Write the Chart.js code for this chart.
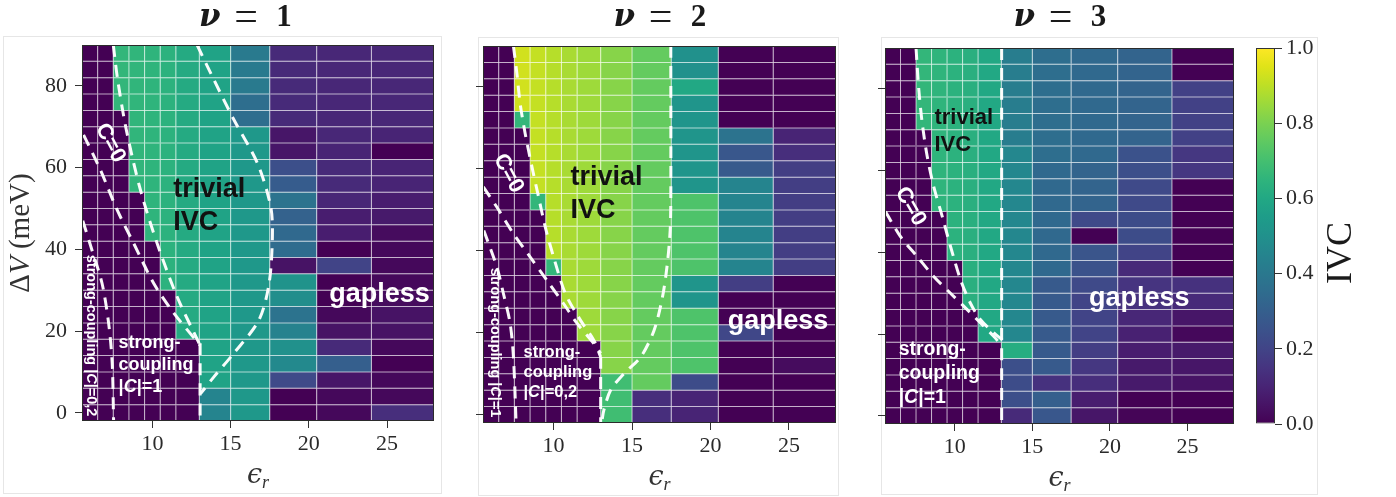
<!DOCTYPE html>
<html>
<head>
<meta charset="utf-8">
<script src="https://cdn.jsdelivr.net/npm/chart.js@4.4.1/dist/chart.umd.min.js"></script>
<style>
  body { margin: 0; background: #fff; width: 1396px; height: 497px; position: relative; overflow: hidden; }
  .frame { position: absolute; border: 1px solid #e6e6e6; }
  canvas { position: absolute; top: 0; }
</style>
</head>
<body>
<div class="frame" style="left:3px;top:36px;width:437px;height:456px"></div>
<div class="frame" style="left:478px;top:37px;width:359px;height:457px"></div>
<div class="frame" style="left:881px;top:37px;width:435px;height:456px"></div>
<canvas id="nu1" width="445" height="497" style="left:0px"></canvas>
<canvas id="nu2" width="400" height="497" style="left:445px"></canvas>
<canvas id="nu3" width="395" height="497" style="left:845px"></canvas>
<canvas id="cbar" width="156" height="497" style="left:1240px"></canvas>
<script>
// grid of the three maps: eps_r columns, Delta V rows (top row first)
const epsR = [6, 7, 8, 9, 10, 11, 12, 14, 16, 19, 22, 26];
const deltaV = [88, 84, 80, 76, 72, 68, 64, 60, 56, 52, 48, 44, 40, 36, 32, 28, 24, 20, 16, 12, 8, 4, 0];
const xTicks = [10, 15, 20, 25];
const yTicks = [0, 20, 40, 60, 80];
const cbarTicks = [0, 0.2, 0.4, 0.6, 0.8, 1.0];

// IVC order parameter, one row per deltaV value
const ivcNu1 = [
  [0, 0, .66, .655, .65, .64, .61, .58, .41, .12, .11, .11],
  [0, 0, .66, .655, .65, .64, .61, .58, .41, .12, .11, .11],
  [0, 0, .66, .655, .65, .64, .61, .58, .41, .12, .11, .11],
  [0, 0, .66, .655, .65, .64, .61, .58, .36, .12, .11, .11],
  [0, 0, 0, .655, .65, .64, .61, .58, .36, .12, .11, .11],
  [0, 0, 0, .655, .65, .64, .61, .58, .53, .06, .11, .10],
  [0, 0, 0, .655, .65, .64, .61, .58, .53, .06, .10, 0],
  [0, 0, 0, .655, .65, .64, .61, .58, .53, .24, .12, .10],
  [0, 0, 0, .655, .65, .64, .61, .58, .53, .29, .12, .10],
  [0, 0, 0, 0, .65, .64, .61, .58, .53, .38, .11, .08],
  [0, 0, 0, 0, .65, .64, .61, .58, .53, .31, .08, .07],
  [0, 0, 0, 0, .65, .64, .61, .58, .53, .34, .08, .03],
  [0, 0, 0, 0, 0, .64, .61, .58, .53, .35, 0, .02],
  [0, 0, 0, 0, 0, .64, .61, .58, .53, .05, .20, .02],
  [0, 0, 0, 0, 0, .64, .61, .58, .53, .51, 0, .02],
  [0, 0, 0, 0, 0, 0, .61, .58, .53, .49, 0, .03],
  [0, 0, 0, 0, 0, 0, .61, .58, .53, .38, .02, .05],
  [0, 0, 0, 0, 0, 0, .61, .58, .53, .44, .05, .05],
  [0, 0, 0, 0, 0, 0, 0, .58, .53, .50, .12, .02],
  [0, 0, 0, 0, 0, 0, 0, .58, .53, .47, .30, 0],
  [0, 0, 0, 0, 0, 0, 0, .58, .53, .22, .06, .02],
  [0, 0, 0, 0, 0, 0, 0, .45, .53, 0, .02, .02],
  [0, 0, 0, 0, 0, 0, 0, .45, .53, 0, .02, .13]
];
const ivcNu2 = [
  [0, 0, .93, .91, .89, .87, .855, .82, .76, .50, 0, 0],
  [0, 0, .93, .91, .89, .87, .855, .82, .76, .50, 0, 0],
  [0, 0, .93, .91, .89, .87, .855, .82, .76, .60, 0, 0],
  [0, 0, .93, .91, .89, .87, .855, .82, .76, .52, 0, 0],
  [0, 0, .66, .91, .89, .87, .855, .82, .76, .52, 0, 0],
  [0, 0, 0, .91, .89, .87, .855, .82, .76, .52, .38, .10],
  [0, 0, 0, .91, .89, .87, .855, .82, .76, .52, .27, .13],
  [0, 0, 0, .91, .89, .87, .855, .82, .76, .52, .28, .18],
  [0, 0, 0, .91, .89, .87, .855, .82, .76, .52, .45, .18],
  [0, 0, 0, .66, .89, .87, .855, .82, .76, .72, .45, .18],
  [0, 0, 0, 0, .89, .87, .855, .82, .76, .72, .45, .18],
  [0, 0, 0, 0, .89, .87, .855, .82, .76, .72, .45, .18],
  [0, 0, 0, 0, .89, .87, .855, .82, .76, .72, .45, .18],
  [0, 0, 0, 0, .66, .87, .855, .82, .76, .72, .45, .18],
  [0, 0, 0, 0, 0, .87, .855, .82, .76, .52, .18, 0],
  [0, 0, 0, 0, 0, .87, .855, .82, .76, .52, 0, 0],
  [0, 0, 0, 0, 0, 0, .855, .82, .76, .72, 0, 0],
  [0, 0, 0, 0, 0, 0, .855, .82, .76, .72, .21, 0],
  [0, 0, 0, 0, 0, 0, 0, .82, .76, .72, 0, 0],
  [0, 0, 0, 0, 0, 0, 0, .82, .76, .72, 0, .03],
  [0, 0, 0, 0, 0, 0, 0, .69, .76, .23, 0, 0],
  [0, 0, 0, 0, 0, 0, 0, .69, .13, .10, 0, 0],
  [0, 0, 0, 0, 0, 0, 0, .69, .13, .10, 0, 0]
];
const ivcNu3 = [
  [0, 0, .66, .65, .64, .63, .60, .42, .36, .34, .32, 0],
  [0, 0, .66, .65, .64, .63, .60, .42, .36, .34, .32, 0],
  [0, 0, .66, .65, .64, .63, .60, .42, .36, .34, .32, .19],
  [0, 0, .66, .65, .64, .63, .60, .42, .36, .34, .32, .19],
  [0, 0, .66, .65, .64, .63, .60, .42, .36, .34, .32, .19],
  [0, 0, 0, .65, .64, .63, .60, .42, .36, .34, .32, .19],
  [0, 0, 0, .65, .64, .63, .60, .46, .36, .34, .25, .16],
  [0, 0, 0, .65, .64, .63, .60, .46, .34, .32, .24, .16],
  [0, 0, 0, .65, .64, .63, .60, .46, .34, .32, .22, 0],
  [0, 0, 0, .65, .64, .63, .60, .46, .34, .32, .22, 0],
  [0, 0, 0, 0, .64, .63, .60, .46, .34, .22, .23, 0],
  [0, 0, 0, 0, .64, .63, .60, .46, .34, 0, .23, 0],
  [0, 0, 0, 0, .64, .63, .60, .46, .34, .26, .20, 0],
  [0, 0, 0, 0, 0, .63, .60, .46, .34, .25, .12, 0],
  [0, 0, 0, 0, 0, .63, .60, .46, .28, .22, .15, .14],
  [0, 0, 0, 0, 0, .63, .60, .46, .28, .20, .14, .12],
  [0, 0, 0, 0, 0, 0, .60, .46, .28, .20, .11, .06],
  [0, 0, 0, 0, 0, 0, .60, .46, .28, .20, .09, .02],
  [0, 0, 0, 0, 0, 0, 0, .62, .28, .18, .08, .07],
  [0, 0, 0, 0, 0, 0, 0, .24, .28, .16, .07, .06],
  [0, 0, 0, 0, 0, 0, 0, .23, .14, .13, .07, .05],
  [0, 0, 0, 0, 0, 0, 0, .24, .30, .08, 0, 0],
  [0, 0, 0, 0, 0, 0, 0, .12, .27, .06, .01, 0]
];

// phase boundaries [eps_r, deltaV]
const nu1Bounds = [
  [[7.5, 90], [7.78, 81.5], [8.33, 69.3], [9.23, 54.6], [10.3, 41.5], [11.58, 28.4], [13.05, 16.5]],
  [[5.6, 68], [6.67, 59.5], [7.74, 49.7], [8.8, 41.5], [10.08, 31.7], [11.37, 24.4], [13.05, 16.5]],
  [[5.55, 47], [6.13, 39.9], [6.78, 31.7], [7.2, 22], [7.43, 12.2], [7.52, -2]],
  [[12.86, 90], [13.93, 81.5], [15.21, 71.7], [16.71, 61.1], [17.56, 50.5], [17.67, 43.1], [17.46, 31.7], [16.81, 22.7], [15.21, 14.6], [13.93, 8.8], [13.08, 4.7]],
  [[13.05, 17], [13.05, -2]]
];
const nu2Bounds = [
  [[7.44, 90], [7.66, 83.3], [7.87, 75.9], [8.19, 68.6], [8.62, 60.5], [9.04, 53.2], [9.47, 45.8], [10.0, 38.5], [10.75, 29.6], [11.71, 23.1], [12.56, 18.2], [13.0, 14.1]],
  [[13.0, 14.1], [13.0, -2]],
  [[5.52, 55.6], [6.38, 50.7], [7.44, 44.2], [8.51, 38.5], [9.58, 32.8], [10.64, 27.1], [11.5, 22.3], [12.56, 17.4], [13.0, 15]],
  [[5.55, 45], [6.38, 36.1], [6.8, 29.6], [7.23, 22.3], [7.44, 14.1], [7.61, -2]],
  [[17.47, 90], [17.47, 53.2], [17.43, 45.0], [17.25, 36.9], [16.94, 28.75], [16.4, 20.6], [15.55, 14.1], [14.48, 10.06], [13.63, 6.0], [13.2, 1.1], [13.1, -1]]
];
const nu3Bounds = [
  [[7.5, 90], [7.68, 79.8], [7.9, 71.6], [8.22, 63.5], [8.64, 56.1], [9.19, 48.8], [9.72, 41.5], [10.37, 33.3], [11.0, 27.6], [11.66, 23.5], [12.52, 20.3], [13.06, 18.6]],
  [[5.53, 50], [6.49, 43.9], [7.57, 39.0], [8.64, 34.1], [9.72, 30.0], [10.8, 26.0], [11.66, 22.7], [12.52, 19.4], [13.06, 17.0]],
  [[13.02, 90], [13.02, -2]]
];

// text labels inside the maps (data coordinates)
const nu1Notes = [
  { lines: ['trivial', 'IVC'], x: 11.33, y: 52.9, size: 27, lh: 33, color: '#111' },
  { lines: ['gapless'], x: 21.3, y: 27.2, size: 27, color: '#fff' },
  { lines: ['strong-', 'coupling', '|*C*|=1'], x: 7.84, y: 15.8, size: 18, lh: 22, color: '#fff' },
  { text: 'strong-coupling |*C*|=0,2', x: 6.09, y: 18.9, size: 14.5, rot: 90, color: '#fff' },
  { text: 'C=0', x: 7.31, y: 66, size: 22, rot: 62, color: '#fff' }
];
const nu2Notes = [
  { lines: ['trivial', 'IVC'], x: 11.07, y: 56.0, size: 27, lh: 33, color: '#111' },
  { lines: ['gapless'], x: 21.1, y: 21.0, size: 27, color: '#fff' },
  { lines: ['strong-', 'coupling', '|*C*|=0,2'], x: 8.08, y: 14.1, size: 16.5, lh: 20, color: '#fff' },
  { text: 'strong-coupling |*C*|=1', x: 6.27, y: 17.6, size: 14.5, rot: 90, color: '#fff' },
  { text: 'C=0', x: 7.12, y: 58.9, size: 22, rot: 62, color: '#fff' }
];
const nu3Notes = [
  { lines: ['trivial', 'IVC'], x: 8.69, y: 71.4, size: 22, lh: 27, color: '#111' },
  { lines: ['gapless'], x: 18.65, y: 26.8, size: 27, color: '#fff' },
  { lines: ['strong-', 'coupling', '|*C*|=1'], x: 6.38, y: 15.0, size: 19.5, lh: 24, color: '#fff' },
  { text: 'C=0', x: 7.14, y: 51.2, size: 22, rot: 60, color: '#fff' }
];

const VIRIDIS = ['#440154', '#471365', '#482475', '#463480', '#414487', '#3b528b', '#355f8d',
  '#2f6c8e', '#2a788e', '#25848e', '#21918c', '#1e9c89', '#22a884', '#2fb47c', '#44bf70',
  '#5ec962', '#7ad151', '#9bd93c', '#bddf26', '#dfe318', '#fde725'];

function hexRgb(h) {
  return [1, 3, 5].map(i => parseInt(h.slice(i, i + 2), 16));
}
function viridisRgb(v) {
  const t = Math.max(0, Math.min(1, v)) * (VIRIDIS.length - 1);
  const i = Math.min(Math.floor(t), VIRIDIS.length - 2);
  const a = hexRgb(VIRIDIS[i]), b = hexRgb(VIRIDIS[i + 1]);
  const f = t - i;
  return a.map((c, k) => Math.round(c + (b[k] - c) * f));
}
function viridis(v) {
  const c = viridisRgb(v);
  return `rgb(${c[0]},${c[1]},${c[2]})`;
}
function tinted(v, amt) {
  const c = viridisRgb(v).map(x => Math.round(x + (255 - x) * amt));
  return `rgb(${c[0]},${c[1]},${c[2]})`;
}

function cellEdges(c) {
  const e = [c[0] - (c[1] - c[0]) / 2];
  for (let i = 1; i < c.length; i++) e.push((c[i - 1] + c[i]) / 2);
  e.push(c[c.length - 1] + (c[c.length - 1] - c[c.length - 2]) / 2);
  return e;
}

const SANS = '"Liberation Sans", Arial, sans-serif';
const SERIF = '"Liberation Serif", "DejaVu Serif", serif';

// draws text with *italic* segments starting at x
function richWidth(ctx, text, size) {
  let w = 0;
  text.split('*').forEach((seg, i) => {
    ctx.font = `${i % 2 ? 'italic ' : ''}bold ${size}px ${SANS}`;
    w += ctx.measureText(seg).width;
  });
  return w;
}
function richDraw(ctx, text, x, y, size) {
  text.split('*').forEach((seg, i) => {
    ctx.font = `${i % 2 ? 'italic ' : ''}bold ${size}px ${SANS}`;
    ctx.fillText(seg, x, y);
    x += ctx.measureText(seg).width;
  });
}

function decor(notes, titleNum, titleDx, showYLabel) {
  return {
    id: 'decor',
    afterDatasetsDraw(chart) {
      const ctx = chart.ctx;
      const xs = chart.scales.x, ys = chart.scales.y;
      ctx.save();
      notes.forEach(n => {
        const px = xs.getPixelForValue(n.x), py = ys.getPixelForValue(n.y);
        ctx.fillStyle = n.color;
        if (n.rot !== undefined) {
          ctx.save();
          ctx.translate(px, py);
          ctx.rotate(n.rot * Math.PI / 180);
          ctx.textBaseline = 'middle';
          richDraw(ctx, n.text, -richWidth(ctx, n.text, n.size) / 2, 0, n.size);
          ctx.restore();
        } else {
          ctx.textBaseline = 'alphabetic';
          n.lines.forEach((l, i) => richDraw(ctx, l, px, py + i * (n.lh || 0), n.size));
        }
      });
      ctx.restore();
    },
    afterDraw(chart) {
      const ctx = chart.ctx;
      const a = chart.chartArea;
      ctx.save();
      // axes frame
      ctx.strokeStyle = '#2b2b2b';
      ctx.lineWidth = 1;
      ctx.strokeRect(Math.round(a.left) + 0.5, Math.round(a.top) + 0.5,
        Math.round(a.right - a.left) - 1, Math.round(a.bottom - a.top) - 1);
      ctx.fillStyle = '#1a1a1a';
      ctx.textBaseline = 'alphabetic';
      // title: nu = n, spaced like the math-mode original
      const cx = (a.left + a.right) / 2 + titleDx;
      ctx.textAlign = 'left';
      ctx.font = 'italic bold 31px "DejaVu Serif", serif';
      ctx.fillText('ν', cx - 46, 26);
      ctx.textAlign = 'center';
      ctx.font = '42px ' + SERIF;
      ctx.fillText('=', cx + 1, 30);
      ctx.font = 'bold 31px ' + SERIF;
      ctx.fillText(String(titleNum), cx + 39, 26);
      ctx.textAlign = 'left';
      // x label epsilon_r
      ctx.fillStyle = '#333';
      ctx.font = 'italic 27px "DejaVu Serif", ' + SERIF;
      const ew = ctx.measureText('ϵ').width;
      ctx.font = 'italic 18px ' + SERIF;
      const rw = ctx.measureText('r').width;
      const ex = (a.left + a.right) / 2 - (ew + rw) / 2;
      ctx.font = 'italic 27px "DejaVu Serif", ' + SERIF;
      ctx.fillText('ϵ', ex, a.bottom + 62);
      ctx.font = 'italic 18px ' + SERIF;
      ctx.fillText('r', ex + ew, a.bottom + 67);
      // y label
      if (showYLabel) {
        ctx.save();
        ctx.translate(21.5, (a.top + a.bottom) / 2);
        ctx.rotate(-Math.PI / 2);
        const yp = [['Δ', '29px ' + SERIF], ['V', 'italic 29px ' + SERIF], [' (meV)', '29px ' + SERIF]];
        let yw = 0;
        yp.forEach(p => { ctx.font = p[1]; yw += ctx.measureText(p[0]).width; });
        let yx = -yw / 2;
        ctx.textBaseline = 'middle';
        yp.forEach(p => { ctx.font = p[1]; ctx.fillText(p[0], yx, 0); yx += ctx.measureText(p[0]).width; });
        ctx.restore();
      }
      ctx.restore();
    }
  };
}

function heatmap(id, values, bounds, notes, cfg) {
  const edges = cellEdges(epsR);
  const half = (deltaV[0] - deltaV[1]) / 2;
  const datasets = [];
  bounds.forEach(line => datasets.push({
    type: 'line',
    data: line.map(([x, y]) => ({ x, y })),
    borderColor: 'rgba(255,255,255,0.97)',
    borderWidth: 3,
    borderDash: [12, 8],
    pointRadius: 0,
    tension: 0.3,
    fill: false,
    order: 0
  }));
  epsR.forEach((e, i) => datasets.push({
    type: 'bar',
    indexAxis: 'y',
    order: 1,
    data: deltaV.map(v => ({ x: [edges[i], edges[i + 1]], y: v })),
    backgroundColor: deltaV.map((v, r) => viridis(values[r][i])),
    borderColor: deltaV.map((v, r) => tinted(values[r][i], 0.3)),
    borderWidth: 0.5,
    borderSkipped: false,
    inflateAmount: 0,
    grouped: false,
    barPercentage: 1,
    categoryPercentage: 1
  }));

  new Chart(document.getElementById(id), {
    type: 'bar',
    data: { datasets },
    options: {
      responsive: false,
      animation: false,
      events: [],
      layout: { padding: { left: 0, right: cfg.padRight, top: cfg.padTop, bottom: 0 } },
      plugins: { legend: { display: false }, tooltip: { enabled: false } },
      scales: {
        x: {
          type: 'linear',
          min: edges[0],
          max: edges[edges.length - 1],
          offset: false,
          afterBuildTicks: s => { s.ticks = xTicks.map(v => ({ value: v })); },
          afterFit: s => { s.height = cfg.xHeight; },
          grid: { drawOnChartArea: false, tickLength: 7, color: '#333', offset: false },
          border: { display: false },
          ticks: { font: { family: 'Liberation Serif', size: 22 }, color: '#2a2a2a', padding: 3, maxRotation: 0, autoSkip: false }
        },
        y: {
          type: 'linear',
          min: deltaV[deltaV.length - 1] - half,
          max: deltaV[0] + half,
          offset: false,
          beginAtZero: false,
          afterBuildTicks: s => { s.ticks = yTicks.map(v => ({ value: v })); },
          afterFit: s => { s.width = cfg.yWidth; },
          grid: { drawOnChartArea: false, tickLength: 7, color: '#333', offset: false },
          border: { display: false },
          ticks: {
            font: { family: 'Liberation Serif', size: 22 }, color: '#2a2a2a', padding: 8, autoSkip: false,
            callback: v => cfg.yLabels ? String(v) : ''
          }
        }
      }
    },
    plugins: [decor(notes, cfg.num, cfg.titleDx, cfg.yLabels)]
  });
}

heatmap('nu1', ivcNu1, nu1Bounds, nu1Notes, { num: 1, padRight: 11, padTop: 45, xHeight: 76, yWidth: 82, yLabels: true, titleDx: -13 });
heatmap('nu2', ivcNu2, nu2Bounds, nu2Notes, { num: 2, padRight: 9, padTop: 46, xHeight: 74, yWidth: 38, yLabels: false, titleDx: 0 });
heatmap('nu3', ivcNu3, nu3Bounds, nu3Notes, { num: 3, padRight: 6, padTop: 48, xHeight: 73, yWidth: 40, yLabels: false, titleDx: 0 });

// colour bar
new Chart(document.getElementById('cbar'), {
  type: 'bar',
  data: {
    labels: ['IVC'],
    datasets: [{
      data: [[0, 1]],
      backgroundColor: c => {
        const a = c.chart.chartArea;
        if (!a) return VIRIDIS[0];
        const g = c.chart.ctx.createLinearGradient(0, a.bottom, 0, a.top);
        VIRIDIS.forEach((col, i) => g.addColorStop(i / (VIRIDIS.length - 1), col));
        return g;
      },
      borderColor: '#333',
      borderWidth: 1,
      borderSkipped: false,
      inflateAmount: 0,
      barPercentage: 1,
      categoryPercentage: 1
    }]
  },
  options: {
    responsive: false,
    animation: false,
    events: [],
    layout: { padding: { left: 16, right: 0, top: 48, bottom: 73 } },
    plugins: { legend: { display: false }, tooltip: { enabled: false } },
    scales: {
      x: { display: false },
      y: {
        position: 'right',
        min: 0,
        max: 1,
        afterBuildTicks: s => { s.ticks = cbarTicks.map(v => ({ value: v })); },
        afterFit: s => { s.width = 121; },
        grid: { drawOnChartArea: false, tickLength: 7, color: '#333' },
        border: { display: false },
        ticks: { font: { family: 'Liberation Serif', size: 22 }, color: '#2a2a2a', padding: 4, callback: v => v.toFixed(1) }
      }
    }
  },
  plugins: [{
    id: 'cbarLabel',
    afterDraw(chart) {
      const ctx = chart.ctx;
      ctx.save();
      ctx.translate(102, 253);
      ctx.rotate(-Math.PI / 2);
      ctx.font = '36px ' + SERIF;
      ctx.fillStyle = '#1a1a1a';
      ctx.textAlign = 'center';
      ctx.textBaseline = 'middle';
      ctx.fillText('IVC', 0, 0);
      ctx.restore();
    }
  }]
});
</script>
</body>
</html>
